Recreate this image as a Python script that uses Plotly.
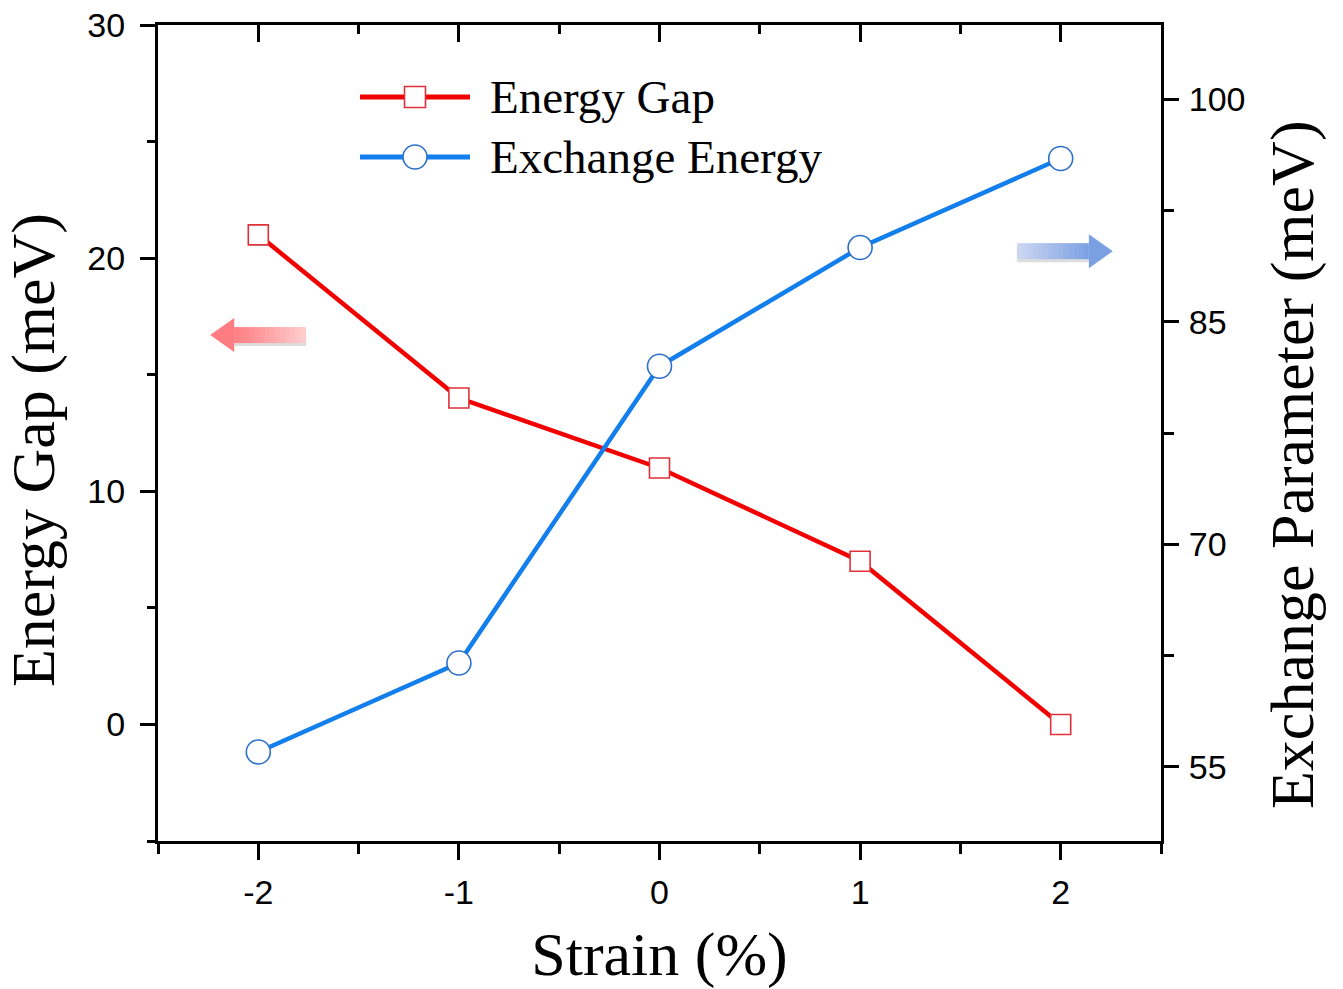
import plotly.graph_objects as go

# ---- data ----
strain = [-2, -1, 0, 1, 2]
energy_gap = [21, 14, 11, 7, 0]
exchange_energy = [56, 62, 82, 90, 96]
series_names = ["Energy Gap", "Exchange Energy"]
x_tickvals = [-2, -1, 0, 1, 2]
x_ticktext = ["-2", "-1", "0", "1", "2"]
x_title = "Strain (%)"
y_left_title = "Energy Gap (meV)"
y_right_title = "Exchange Parameter (meV)"

W, H = 1343, 989
ML, MR, MT, MB = 158, 182, 25, 148
PW = W - ML - MR
PH = H - MT - MB

RED = "#F20000"
RED_EDGE = "#E0313A"
BLUE = "#137FEC"
BLUE_EDGE = "#2E6FC9"
SANS = "Liberation Sans, Arial, sans-serif"
SERIF = "Liberation Serif, Times New Roman, serif"

fig = go.Figure()
fig.add_trace(go.Scatter(
    x=strain, y=energy_gap, name=series_names[0], mode="lines+markers",
    line=dict(color=RED, width=4.5),
    marker=dict(symbol="square", size=20, color="white", line=dict(color=RED_EDGE, width=1.6)),
    yaxis="y", showlegend=False))
fig.add_trace(go.Scatter(
    x=strain, y=exchange_energy, name=series_names[1], mode="lines+markers",
    line=dict(color=BLUE, width=4.5),
    marker=dict(symbol="circle", size=24, color="white", line=dict(color=BLUE_EDGE, width=1.6)),
    yaxis="y2", showlegend=False))
# helper trace so the top mirror axis is drawn
fig.add_trace(go.Scatter(x=[None], y=[None], xaxis="x2", yaxis="y", showlegend=False, hoverinfo="skip"))

tickfont = dict(family=SANS, size=34, color="black")
common = dict(showline=True, linecolor="black", linewidth=3, showgrid=False, zeroline=False,
              tickfont=tickfont, tickcolor="black", tickwidth=3)

fig.update_layout(
    width=W, height=H,
    margin=dict(l=ML, r=MR, t=MT, b=MB, autoexpand=False),
    paper_bgcolor="white", plot_bgcolor="white",
    xaxis=dict(range=[-2.5, 2.5], tickmode="array", tickvals=x_tickvals, ticktext=x_ticktext,
               ticks="outside", ticklen=16,
               minor=dict(ticks="outside", dtick=0.5, tick0=0, ticklen=10, tickwidth=3, tickcolor="black"),
               title=dict(text=x_title, font=dict(family=SERIF, size=62, color="black"), standoff=22),
               ticklabelstandoff=3, **common),
    xaxis2=dict(range=[-2.5, 2.5], overlaying="x", side="top", anchor="y", tick0=0, dtick=1,
                ticks="inside", ticklen=17, showticklabels=False,
                minor=dict(ticks="inside", dtick=0.5, tick0=0, ticklen=9, tickwidth=3, tickcolor="black"),
                **common),
    yaxis=dict(range=[-5, 30], tick0=0, dtick=10, ticks="outside", ticklen=15,
               minor=dict(ticks="outside", dtick=5, tick0=0, ticklen=8, tickwidth=3, tickcolor="black"),
               ticklabelstandoff=8, **common),
    yaxis2=dict(range=[50, 105], overlaying="y", side="right", anchor="x", tick0=55, dtick=15,
                ticks="outside", ticklen=15,
                minor=dict(ticks="outside", dtick=7.5, tick0=55, ticklen=10, tickwidth=3, tickcolor="black"),
                ticklabelstandoff=3, **common),
)

def px_to_paper(px, py):
    return (px - ML) / PW, (MT + PH - py) / PH

shapes = []
annotations = []

# ---- y-axis titles ----
for (cx, cy), text in [((34, 450), y_left_title), ((1292, 465), y_right_title)]:
    ax_, ay_ = px_to_paper(cx, cy)
    annotations.append(dict(text=text, xref="paper", yref="paper", x=ax_, y=ay_, xanchor="center",
                            yanchor="middle", textangle=-90, showarrow=False,
                            font=dict(family=SERIF, size=62, color="black")))

# ---- custom legend (paper coords) ----
leg = [(97, RED, RED_EDGE, "rect", 21, series_names[0]),
       (157, BLUE, BLUE_EDGE, "circle", 24, series_names[1])]
for py, lc, ec, kind, sz, label in leg:
    x0, y0 = px_to_paper(360, py)
    x1, _ = px_to_paper(470, py)
    xm, _ = px_to_paper(415, py)
    shapes.append(dict(type="line", xref="paper", yref="paper", x0=x0, x1=x1, y0=y0, y1=y0,
                       line=dict(color=lc, width=5), layer="above"))
    shapes.append(dict(type=kind, xref="paper", yref="paper", xsizemode="pixel", ysizemode="pixel",
                       xanchor=xm, yanchor=y0, x0=-sz / 2, x1=sz / 2, y0=-sz / 2, y1=sz / 2,
                       fillcolor="white", line=dict(color=ec, width=1.6), layer="above"))
    tx, _ = px_to_paper(488, py)
    annotations.append(dict(text=label, xref="paper", yref="paper", x=tx, y=y0, xanchor="left",
                            yanchor="middle", showarrow=False,
                            font=dict(family=SERIF, size=47, color="black")))

# ---- gradient arrows ----
def lerp(c0, c1, t):
    return "rgb(%d,%d,%d)" % tuple(round(a + (b - a) * t) for a, b in zip(c0, c1))

def arrow(xa, ya, direction, c_tail, c_head, length=95, head_len=24, head_half=17, shaft_half=8):
    s = []
    base = dict(xref="x", yref="y", xsizemode="pixel", ysizemode="pixel", xanchor=xa, yanchor=ya,
                layer="above")
    d = -direction
    s.append(dict(type="rect", x0=d * head_len, x1=d * (length + 1), y0=-shaft_half - 3, y1=shaft_half - 3,
                  fillcolor="rgba(120,120,120,0.25)", line=dict(width=0), **base))
    n = 14
    shaft = length - head_len
    for i in range(n):
        a = head_len + shaft * i / n
        b = head_len + shaft * (i + 1) / n + 0.6
        t = (i + 0.5) / n
        s.append(dict(type="rect", x0=d * a, x1=d * b, y0=-shaft_half, y1=shaft_half,
                      fillcolor=lerp(c_head, c_tail, t), line=dict(width=0), **base))
    path = "M 0 0 L %g %g L %g %g Z" % (d * head_len, head_half, d * head_len, -head_half)
    s.append(dict(type="path", path=path, fillcolor=lerp(c_head, c_tail, 0.0),
                  line=dict(width=0), **base))
    return s

shapes += arrow(-2.24, 16.7, -1, (255, 205, 205), (255, 125, 130))
shapes += arrow(2.26, 20.3, +1, (205, 215, 242), (122, 160, 226))

fig.update_layout(shapes=shapes, annotations=annotations)

fig.write_html("out.html", config={"displayModeBar": False},
               post_script="document.body.style.margin='0px';")
